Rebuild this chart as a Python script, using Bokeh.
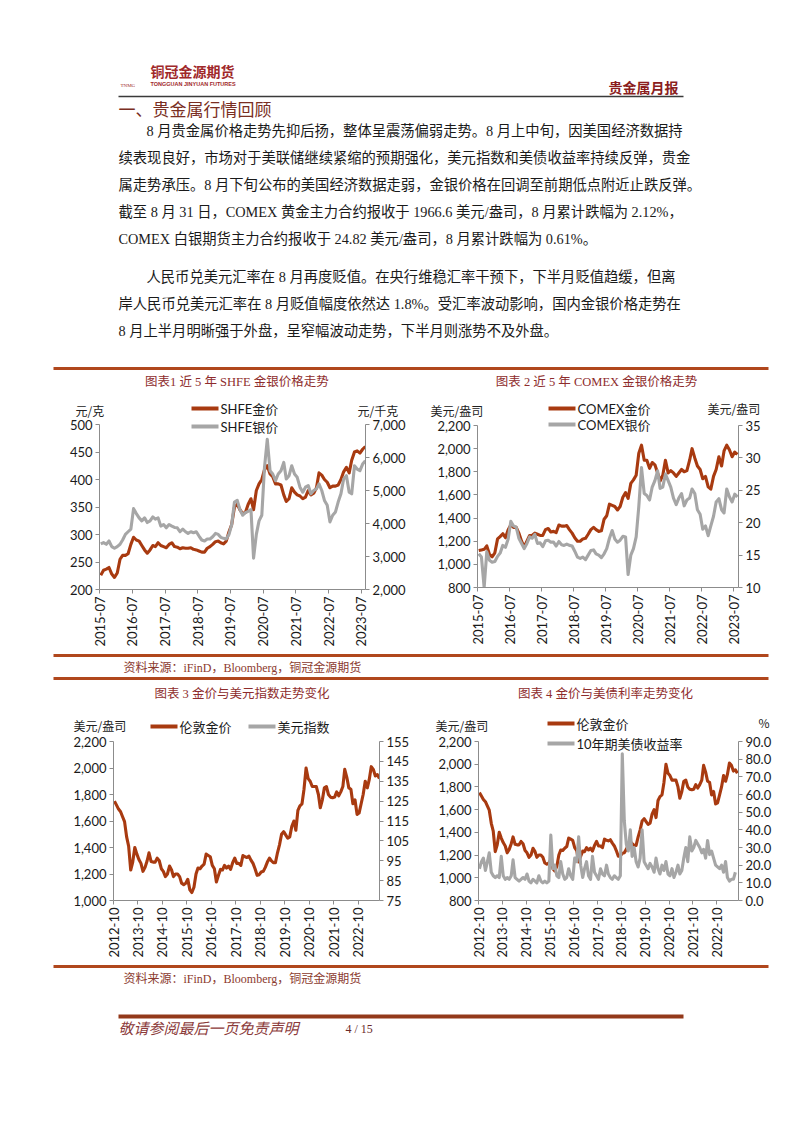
import pandas as pd
from math import pi
from bokeh.plotting import figure
from bokeh.layouts import column
from bokeh.models import (Range1d, LinearAxis, FixedTicker, GridBox,
                          NumeralTickFormatter, DatetimeTickFormatter)
from bokeh.embed import file_html
from bokeh.resources import INLINE
from bokeh.core.properties import value

# ---------------- data (monthly readings from the picture) ----------------
# Chart 1: SHFE gold (元/克) and silver (元/千克), 2015-07 .. 2023-08
shfe_gold = [226, 235, 237, 240, 228, 222,
             230, 255, 262, 262, 265, 282, 295, 290, 288, 280, 272, 266,
             272, 280, 278, 285, 280, 278, 276, 282, 285, 278, 277, 274,
             276, 275, 275, 276, 273, 272, 270, 268, 268, 275, 278, 282,
             287, 288, 285, 283, 288, 305, 318, 350, 355, 345, 338, 340,
             355, 365, 345, 380, 392, 400, 418, 425, 410, 405, 392, 392,
             390, 372, 360, 365, 385, 377, 372, 370, 365, 368, 380, 372,
             375, 385, 412, 408, 400, 395, 385, 388, 388, 390, 400, 414,
             422, 412, 435, 450, 452, 448, 455, 460]
shfe_silver = [3380, 3420, 3370, 3470, 3300, 3250,
               3300, 3370, 3500, 3670, 3750, 3830, 4450, 4300, 4170, 4080, 4170, 4030,
               4080, 4200, 4130, 4170, 3920, 3970, 3870, 3970, 3920, 3880, 3870, 3750,
               3830, 3750, 3700, 3750, 3720, 3750, 3620, 3500, 3470, 3530, 3530, 3600,
               3700, 3670, 3580, 3550, 3530, 3670, 3970, 4650, 4700, 4420, 4250, 4330,
               4370, 4420, 2950, 3670, 4080, 4250, 5700, 6550, 5600, 5500, 5300, 5500,
               5600, 5850, 5350, 5450, 5750, 5500, 5400, 5100, 4950, 5100, 5150, 4900,
               5000, 5050, 5200, 5000, 4700, 4550, 4050, 4250, 4350, 4650, 4900, 5350,
               5450, 4950, 4900, 5750, 5650, 5600, 5800, 5900]

# Chart 2: COMEX gold (美元/盎司) and silver (美元/盎司), 2015-07 .. 2023-08
comex_gold = [1120, 1125, 1130, 1160, 1085, 1065,
              1100, 1220, 1240, 1265, 1230, 1300, 1340, 1320, 1320, 1270, 1200, 1150,
              1200, 1250, 1250, 1270, 1260, 1250, 1250, 1300, 1310, 1280, 1285, 1275,
              1340, 1330, 1330, 1335, 1300, 1270, 1230, 1200, 1200, 1220, 1225, 1260,
              1300, 1320, 1300, 1285, 1290, 1390, 1420, 1520, 1510, 1500, 1470, 1500,
              1580, 1620, 1570, 1700, 1730, 1770, 1960, 2030, 1900, 1900, 1830, 1880,
              1860, 1790, 1720, 1770, 1900, 1790, 1810, 1790, 1760, 1790, 1820, 1800,
              1810, 1900, 2000, 1920, 1850, 1820, 1740, 1760, 1670, 1650, 1760, 1820,
              1930, 1850, 1980, 2030, 1990, 1930, 1970, 1950]
comex_silver = [15.2, 14.7, 10.0, 15.5, 14.2, 13.9,
                14.0, 14.8, 15.3, 16.5, 16.2, 17.5, 20.2, 19.5, 19.3, 17.6, 16.8, 16.0,
                16.8, 17.8, 17.6, 18.2, 16.8, 16.9, 16.3, 17.2, 17.3, 17.0, 17.0, 16.4,
                17.1, 16.6, 16.5, 16.7, 16.5, 16.4, 15.6, 14.7, 14.5, 14.7, 14.3, 15.0,
                15.7, 15.8, 15.2, 15.0, 14.6, 15.2, 16.0, 17.6, 18.8, 17.5, 17.0, 17.3,
                17.9, 17.8, 12.0, 15.0, 16.0, 17.8, 22.5, 28.5, 24.5, 24.2, 23.5, 25.5,
                26.5, 28.0, 25.3, 25.5, 27.5, 26.5, 25.5, 23.8, 22.8, 23.8, 24.5, 22.6,
                23.5, 23.8, 25.2, 24.5, 22.0, 21.3, 19.0, 19.5, 18.0, 19.5, 21.0, 23.2,
                23.7, 22.0, 21.5, 25.2, 24.0, 23.2, 24.4, 24.0]

# Charts 3 and 4: London gold (美元/盎司), 2012-10 .. 2023-08
london_gold = [1750, 1720, 1690,
               1670, 1630, 1595, 1480, 1410, 1230, 1290, 1400, 1350, 1310, 1280, 1220,
               1250, 1300, 1360, 1295, 1290, 1290, 1320, 1300, 1240, 1220, 1180, 1200,
               1260, 1230, 1180, 1200, 1200, 1180, 1130, 1120, 1130, 1160, 1080, 1060,
               1100, 1200, 1245, 1240, 1260, 1275, 1350, 1340, 1330, 1265, 1240, 1140,
               1190, 1235, 1230, 1265, 1245, 1260, 1235, 1285, 1320, 1280, 1280, 1265,
               1340, 1330, 1325, 1335, 1305, 1280, 1240, 1190, 1195, 1215, 1220, 1250,
               1290, 1320, 1300, 1285, 1285, 1360, 1420, 1500, 1520, 1495, 1470, 1480,
               1560, 1600, 1530, 1680, 1715, 1730, 1840, 2000, 1920, 1900, 1860, 1860,
               1860, 1800, 1700, 1760, 1850, 1860, 1800, 1780, 1775, 1780, 1820, 1790,
               1820, 1860, 1990, 1930, 1850, 1840, 1730, 1760, 1650, 1660, 1730, 1800,
               1900, 1850, 1910, 2010, 1990, 1940, 1950, 1920]
# Chart 3: the US dollar index is listed in the legend only; no line is drawn in the reference
usd_index = []
# Chart 4: 10年期美债收益率 (%), 2012-10 .. 2023-08
ust_yield = [18, 22, 24,
             17, 22, 27, 16, 14, 13, 14, 13, 25, 14, 12, 13,
             12, 14, 23, 13, 12, 11, 12, 13, 12, 15, 11, 10,
             12, 11, 10, 14, 11, 10, 11, 10, 11, 37, 18, 20,
             14, 13, 22, 15, 12, 13, 18, 14, 12, 24, 22, 36,
             20, 13, 18, 22, 14, 12, 25, 16, 14, 12, 18, 15,
             14, 20, 15, 13, 12, 14, 13, 12, 14, 83, 45, 32,
             28, 40, 25, 30, 22, 19, 24, 40, 22, 20, 18, 21,
             19, 16, 24, 18, 15, 20, 17, 22, 15, 14, 18, 13,
             16, 20, 15, 17, 24, 30, 22, 36, 28, 30, 34, 32,
             30, 27, 29, 24, 34, 26, 28, 24, 20, 19, 18, 20,
             16, 22, 13, 11, 12, 12, 16]

ticks_2015 = ["2015-07", "2016-07", "2017-07", "2018-07", "2019-07",
              "2020-07", "2021-07", "2022-07", "2023-07"]
ticks_2012 = ["2012-10", "2013-10", "2014-10", "2015-10", "2016-10", "2017-10",
              "2018-10", "2019-10", "2020-10", "2021-10", "2022-10"]

# ---------------- styles ----------------
CN = "Noto Sans CJK SC"
SERIF = "Liberation Serif, Noto Sans CJK SC"
LEGF = "Lato, Noto Sans CJK SC"
NUM = "Lato"
GOLD = "#A83A10"
GRAY = "#A6A6A6"
RULE = "#B0471D"
TITLE_C = "#8E2C2C"
AXC = "#8C8C8C"
LW = 3.1
PAGE_W, PAGE_H = 794, 1125


def months(start, n):
    return pd.date_range(start, periods=n, freq="MS") + pd.Timedelta(days=14)


def ms(label):
    return pd.Timestamp(label + "-01").value / 1e6


def txt(p, x, y, t, size, color="#1a1a1a", font=CN, align="left", style="normal"):
    p.text(x=[x], y=[y], text=[t], text_font=value(font), text_font_size=size,
           text_color=color, text_align=align, text_baseline="middle", text_font_style=style)


def rule(p, x0, x1, y, width, color):
    p.segment(x0=[x0], y0=[y], x1=[x1], y1=[y], line_color=color, line_width=width)


def style_axis(ax):
    ax.axis_line_color = AXC
    ax.major_tick_line_color = AXC
    ax.minor_tick_line_color = None
    ax.major_tick_in = 0
    ax.major_tick_out = 4
    ax.major_label_text_font = NUM
    ax.major_label_text_font_size = "13px"
    ax.major_label_text_color = "#1a1a1a"
    ax.major_label_standoff = 3


def make_chart(w, h, fl, ft, fw, fh, x1, xticks, yl, yl_ticks, yl_fmt, yr, yr_ticks, yr_fmt):
    p = figure(width=w, height=h, x_axis_type="datetime",
               x_range=Range1d(pd.Timestamp(xticks[0] + "-01"), pd.Timestamp(x1)),
               y_range=Range1d(*yl), toolbar_location=None, output_backend="svg", title=None,
               min_border_left=fl, min_border_top=ft, min_border_right=w - fl - fw,
               min_border_bottom=h - ft - fh, outline_line_color=None,
               background_fill_color=None, border_fill_color=None)
    p.grid.visible = False
    p.xaxis.ticker = FixedTicker(ticks=[ms(t) for t in xticks])
    p.xaxis.formatter = DatetimeTickFormatter(years="%Y-%m", months="%Y-%m", days="%Y-%m",
                                              hours="%Y-%m", minutes="%Y-%m")
    p.xaxis.major_label_orientation = pi / 2
    p.yaxis.ticker = FixedTicker(ticks=yl_ticks)
    p.yaxis.formatter = NumeralTickFormatter(format=yl_fmt)
    p.extra_y_ranges = {"r": Range1d(*yr)}
    ra = LinearAxis(y_range_name="r", ticker=FixedTicker(ticks=yr_ticks),
                    formatter=NumeralTickFormatter(format=yr_fmt))
    p.add_layout(ra, "right")
    for ax in [p.xaxis[0], p.yaxis[0], ra]:
        style_axis(ax)
    return p


# ---------------- chart 1 ----------------
c1 = make_chart(420, 262, 99, 34, 266, 165, "2023-08-16", ticks_2015,
                (200, 500), list(range(200, 501, 50)), "0",
                (2000, 7000), list(range(2000, 7001, 1000)), "0,0")
c1.line(months("2015-07-01", len(shfe_gold)), shfe_gold, line_color=GOLD, line_width=LW,
        line_join="round")
c1.line(months("2015-07-01", len(shfe_silver)), shfe_silver, line_color=GRAY, line_width=LW,
        line_join="round", y_range_name="r")

# ---------------- chart 2 ----------------
c2 = make_chart(374, 262, 57, 35, 261, 162, "2023-08-27", ticks_2015,
                (800, 2200), list(range(800, 2201, 200)), "0,0",
                (10, 35), list(range(10, 36, 5)), "0")
c2.line(months("2015-07-01", len(comex_gold)), comex_gold, line_color=GOLD, line_width=LW,
        line_join="round")
c2.line(months("2015-07-01", len(comex_silver)), comex_silver, line_color=GRAY,
        line_width=LW, line_join="round", y_range_name="r")

# ---------------- chart 3 ----------------
c3 = make_chart(420, 255, 113, 36, 266, 159, "2023-08-16", ticks_2012,
                (1000, 2200), list(range(1000, 2201, 200)), "0,0",
                (75, 155), list(range(75, 156, 10)), "0")
c3.line(months("2012-10-01", len(london_gold)), london_gold, line_color=GOLD,
        line_width=LW, line_join="round")
c3.line(months("2012-10-01", len(usd_index)), usd_index, line_color=GRAY, line_width=LW,
        y_range_name="r")

# ---------------- chart 4 ----------------
c4 = make_chart(374, 255, 58, 36, 260, 159, "2023-09-01", ticks_2012,
                (800, 2200), list(range(800, 2201, 200)), "0,0",
                (0, 90), list(range(0, 91, 10)), "0.0")
c4.line(months("2012-10-01", len(london_gold)), london_gold, line_color=GOLD,
        line_width=LW, line_join="round")
c4.line(months("2012-10-01", len(ust_yield)), ust_yield, line_color=GRAY, line_width=LW,
        line_join="round", y_range_name="r")

# ---------------- page overlay: header, text, titles, legends, units, footer ----------------
pg = figure(width=PAGE_W, height=PAGE_H, x_range=Range1d(0, PAGE_W), y_range=Range1d(PAGE_H, 0),
            x_axis_type=None, y_axis_type=None, toolbar_location=None, output_backend="svg",
            min_border=0, outline_line_color=None, title=None,
            background_fill_color=None, border_fill_color=None)
pg.grid.visible = False

txt(pg, 150, 70, "铜冠金源期货", "14px", "#A0282A", CN, style="bold")
txt(pg, 150, 83, "TONGGUAN JINYUAN FUTURES", "5.5px", "#A0282A", "Liberation Sans", style="bold")
txt(pg, 120, 85, "TNMG", "5px", "#A0282A", "Liberation Serif")
txt(pg, 678, 86, "贵金属月报", "14px", "#8B1E1E", CN, align="right", style="bold")
rule(pg, 118, 683, 96, 1.5, "#3a3a3a")
txt(pg, 118, 108, "一、贵金属行情回顾", "17px", "#7A2E22", CN)

para_lines = [
    "8 月贵金属价格走势先抑后扬，整体呈震荡偏弱走势。8 月上中旬，因美国经济数据持",
    "续表现良好，市场对于美联储继续紧缩的预期强化，美元指数和美债收益率持续反弹，贵金",
    "属走势承压。8 月下旬公布的美国经济数据走弱，金银价格在回调至前期低点附近止跌反弹。",
    "截至 8 月 31 日，COMEX 黄金主力合约报收于 1966.6 美元/盎司，8 月累计跌幅为 2.12%，",
    "COMEX 白银期货主力合约报收于 24.82 美元/盎司，8 月累计跌幅为 0.61%。",
    "人民币兑美元汇率在 8 月再度贬值。在央行维稳汇率干预下，下半月贬值趋缓，但离",
    "岸人民币兑美元汇率在 8 月贬值幅度依然达 1.8%。受汇率波动影响，国内金银价格走势在",
    "8 月上半月明晰强于外盘，呈窄幅波动走势，下半月则涨势不及外盘。",
]
para_y = [130, 157, 184, 211, 238, 276, 303, 330]
para_x = [146, 118, 118, 118, 118, 146, 118, 118]
for t, x, y in zip(para_lines, para_x, para_y):
    txt(pg, x, y, t, "14.3px", "#1a1a1a", SERIF)

# chart frames / titles
rule(pg, 53, 768, 368, 3, RULE)
txt(pg, 238, 381, "图表1  近 5 年 SHFE 金银价格走势", "12.5px", TITLE_C, SERIF, align="center")
txt(pg, 596, 381, "图表 2 近 5 年 COMEX 金银价格走势", "12.5px", TITLE_C, SERIF, align="center")
rule(pg, 53, 768, 655, 3, RULE)
txt(pg, 123, 667, "资料来源：iFinD，Bloomberg，铜冠金源期货", "12px", "#8B3A2E", SERIF)
rule(pg, 53, 768, 678, 3, RULE)
txt(pg, 243, 693, "图表 3  金价与美元指数走势变化", "12.5px", TITLE_C, SERIF, align="center")
txt(pg, 605, 693, "图表 4 金价与美债利率走势变化", "12.5px", TITLE_C, SERIF, align="center")
rule(pg, 53, 768, 966, 3, RULE)
txt(pg, 123, 978, "资料来源：iFinD，Bloomberg，铜冠金源期货", "12px", "#8B3A2E", SERIF)

# axis unit labels
for x, y, t in [(75, 410, "元/克"), (357, 410, "元/千克"), (430, 410, "美元/盎司"),
                (707, 408, "美元/盎司"), (73, 725, "美元/盎司"), (435, 725, "美元/盎司"),
                (758, 722, "%")]:
    txt(pg, x, y, t, "12px", "#222222", CN)

# legends
legend_items = [(191, 408, GOLD, "SHFE金价"), (191, 426, GRAY, "SHFE银价"),
                (548, 408, GOLD, "COMEX金价"), (548, 424, GRAY, "COMEX银价"),
                (150, 726, GOLD, "伦敦金价"), (248, 726, GRAY, "美元指数"),
                (547, 723, GOLD, "伦敦金价"), (547, 743, GRAY, "10年期美债收益率")]
for x, y, c, t in legend_items:
    rule(pg, x, x + 27, y, 4, c)
    txt(pg, x + 29, y, t, "13px", "#1a1a1a", LEGF)

# footer
rule(pg, 118, 683, 1016, 4, "#93391A")
txt(pg, 118, 1028, "敬请参阅最后一页免责声明", "15px", "#8B3A3A", SERIF, style="italic")
txt(pg, 345, 1028, "4  /  15", "12px", "#6B2A2A", SERIF)

page = GridBox(
    children=[(column(c1), 1, 0), (column(c2), 1, 1), (column(c3), 3, 0), (column(c4), 3, 1),
              (column(pg), 0, 0, 5, 2)],
    rows=["390px", "262px", "53px", "255px", "165px"],
    cols=["420px", "374px"],
)
open("out.html", "w").write(file_html(page, INLINE))
